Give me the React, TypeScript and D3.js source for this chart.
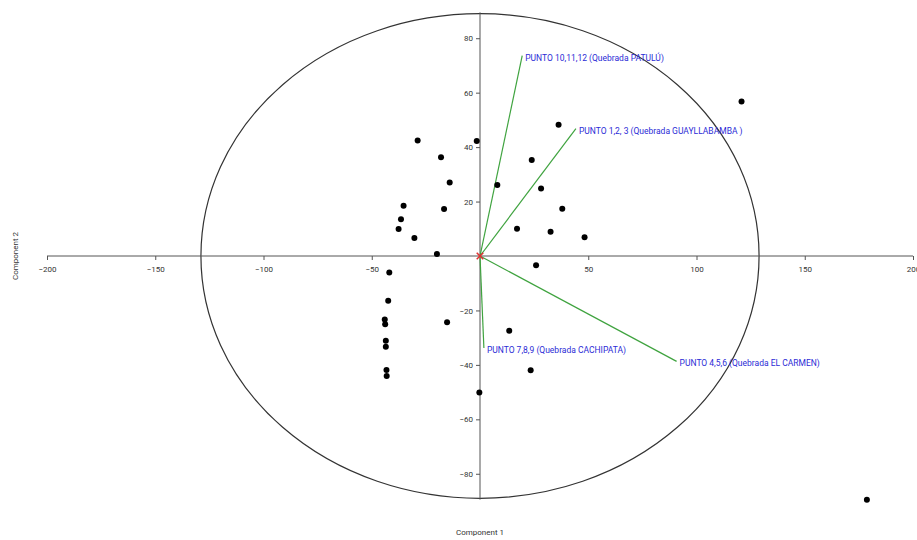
import React, { useEffect, useRef } from 'react';
import * as d3 from 'd3';

// PCA scores (Component 1, Component 2)
const scoreX = [120.8, 178.7, 36.3, -28.8, -1.5, -18, -14, 8, 23.9, 28.2, -35.3, -16.6, 38, -36.5, -37.6, 17.1, 32.6, -30.3, 48.3, -19.9, 25.9, -41.9, -42.4, -44, -43.8, -43.5, -43.5, -43.2, -43.1, -15.2, 13.5, 23.4, -0.3];
const scoreY = [56.8, -89.5, 48.2, 42.4, 42.2, 36.3, 27, 26.1, 35.3, 24.8, 18.5, 17.3, 17.4, 13.5, 9.9, 10, 8.9, 6.6, 6.9, 0.7, -3.4, -6.1, -16.4, -23.3, -25.1, -31.1, -33.3, -41.9, -44.1, -24.3, -27.5, -42, -50.1];

// loading vectors
const loadNames = [
    'PUNTO 10,11,12 (Quebrada PATULÚ)',
    'PUNTO 1,2, 3 (Quebrada GUAYLLABAMBA )',
    'PUNTO 7,8,9 (Quebrada CACHIPATA)',
    'PUNTO 4,5,6 (Quebrada EL CARMEN)',
];
const loadX = [19.5, 44.3, 1.8, 90.8];
const loadY = [73.6, 46.8, -33.8, -38.7];

const xTicks = [-200, -150, -100, -50, 50, 100, 150, 200];
const yTicks = [80, 60, 40, 20, -20, -40, -60, -80];

// confidence ellipse radii (data units)
const ellipseRx = 128.9;
const ellipseRy = 89;

const App = () => {
    const svgRef = useRef<SVGSVGElement>(null);

    useEffect(() => {
        const svg = d3.select(svgRef.current);
        svg.selectAll('*').remove();

        const width = 917;
        const height = 540;
        const font = 'Roboto, "DejaVu Sans", sans-serif';

        const x = d3.scaleLinear().domain([-200, 200]).range([47, 913]);
        const y = d3.scaleLinear().domain([-90, 90]).range([501, 11]);

        svg.append('rect').attr('width', width).attr('height', height).attr('fill', '#fff');

        // ellipse
        svg.append('ellipse')
            .attr('cx', x(0))
            .attr('cy', y(0))
            .attr('rx', x(ellipseRx) - x(0))
            .attr('ry', y(0) - y(ellipseRy))
            .attr('fill', 'none')
            .attr('stroke', '#333')
            .attr('stroke-width', 1.2);

        // x axis through origin
        const xAxis = svg.append('g')
            .attr('transform', `translate(0,${y(0)})`)
            .call(d3.axisBottom(x).tickValues(xTicks).tickSize(4).tickSizeOuter(0).tickFormat(d3.format('d')));
        xAxis.select('.domain').attr('stroke', '#555').attr('d', `M${x(-200)},0H${x(200)}`);
        xAxis.selectAll('.tick line').attr('stroke', '#555');
        xAxis.selectAll('.tick text')
            .attr('y', 10)
            .attr('fill', '#333')
            .attr('font-family', font)
            .attr('font-size', 8);

        // y axis through origin
        const yAxis = svg.append('g')
            .attr('transform', `translate(${x(0)},0)`)
            .call(d3.axisLeft(y).tickValues(yTicks).tickSize(4).tickSizeOuter(0).tickFormat(d3.format('d')));
        yAxis.select('.domain').attr('stroke', '#555').attr('d', `M0,${y(89.5)}V${y(-89.5)}`);
        yAxis.selectAll('.tick line').attr('stroke', '#555');
        yAxis.selectAll('.tick text')
            .attr('fill', '#333')
            .attr('font-family', font)
            .attr('font-size', 8);

        // axis titles
        svg.append('text')
            .attr('x', x(0))
            .attr('y', 535)
            .attr('text-anchor', 'middle')
            .attr('font-family', font)
            .attr('font-size', 8)
            .attr('fill', '#333')
            .text('Component 1');
        svg.append('text')
            .attr('transform', `translate(18,${y(0)}) rotate(-90)`)
            .attr('text-anchor', 'middle')
            .attr('font-family', font)
            .attr('font-size', 8)
            .attr('fill', '#333')
            .text('Component 2');

        // loading vectors
        const loads = loadNames.map((name, i) => ({ name, lx: loadX[i], ly: loadY[i] }));
        svg.append('g')
            .selectAll('line')
            .data(loads)
            .join('line')
            .attr('x1', x(0))
            .attr('y1', y(0))
            .attr('x2', d => x(d.lx))
            .attr('y2', d => y(d.ly))
            .attr('stroke', '#3fa33f')
            .attr('stroke-width', 1.2);

        svg.append('g')
            .selectAll('text')
            .data(loads)
            .join('text')
            .attr('x', d => x(d.lx) + 3)
            .attr('y', d => y(d.ly) + 5)
            .attr('font-family', font)
            .attr('font-size', 8.5)
            .attr('fill', '#2b2bd6')
            .text(d => d.name);

        // scores
        const pts = scoreX.map((v, i) => ({ sx: v, sy: scoreY[i] }));
        svg.append('g')
            .selectAll('circle')
            .data(pts)
            .join('circle')
            .attr('cx', d => x(d.sx))
            .attr('cy', d => y(d.sy))
            .attr('r', 3)
            .attr('fill', '#000');

        // origin marker
        svg.append('path')
            .attr('transform', `translate(${x(0)},${y(0)})`)
            .attr('d', d3.symbol(d3.symbolX, 30)())
            .attr('fill', 'none')
            .attr('stroke', '#e03030')
            .attr('stroke-width', 1.5);
    }, []);

    return (
        <svg
            ref={svgRef}
            width={917}
            height={540}
            style={{ position: 'absolute', top: 0, left: 0, display: 'block' }}
        ></svg>
    );
};

export default App;
